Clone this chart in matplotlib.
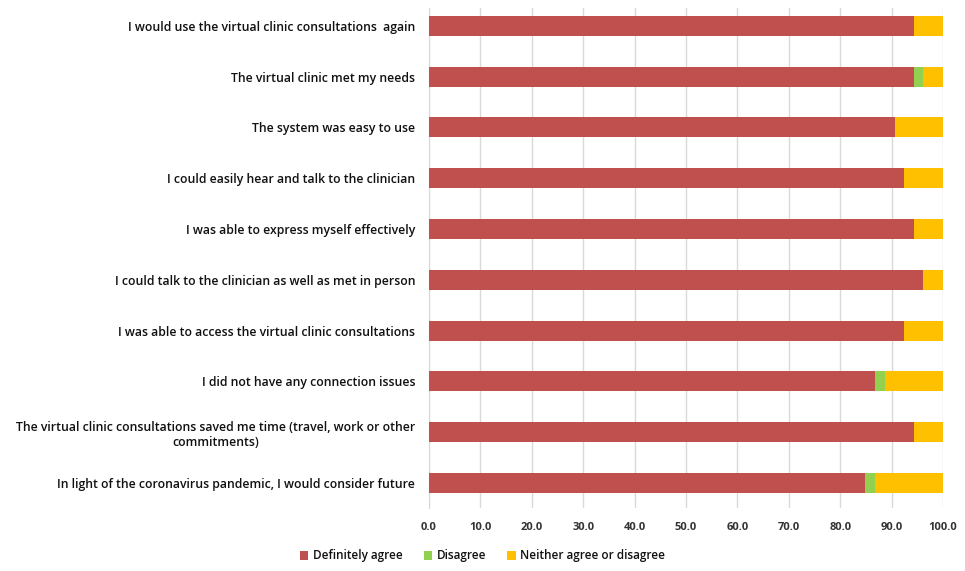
import numpy as np
from matplotlib import pyplot as plt

# statements, bottom to top as plotted
statements = [
    'In light of the coronavirus pandemic, I would consider future',
    'The virtual clinic consultations saved me time (travel, work or other\ncommitments)',
    'I did not have any connection issues',
    'I was able to access the virtual clinic consultations',
    'I could talk to the clinician as well as met in person',
    'I was able to express myself effectively',
    'I could easily hear and talk to the clinician',
    'The system was easy to use',
    'The virtual clinic met my needs',
    'I would use the virtual clinic consultations  again',
]
agree = [84.9, 94.3, 86.8, 92.5, 96.2, 94.3, 92.5, 90.6, 94.3, 94.3]
disagree = [1.9, 0.0, 1.9, 0.0, 0.0, 0.0, 0.0, 0.0, 1.9, 0.0]
neither = [13.2, 5.7, 11.3, 7.5, 3.8, 5.7, 7.5, 9.4, 3.8, 5.7]
xticks = np.arange(0, 101, 10)

series_names = ['Definitely agree', 'Disagree', 'Neither agree or disagree']
colors = ['#C0504D', '#92D050', '#FFC000']

plt.rcParams['font.family'] = ['Open Sans', 'DejaVu Sans']

W, H = 965, 571
fig = plt.figure(figsize=(W / 100, H / 100), dpi=100)
ax = fig.add_axes([429 / W, 1 - 508 / H, (943 - 429) / W, 500 / H])

y = np.arange(len(statements))
agree = np.array(agree)
disagree = np.array(disagree)
neither = np.array(neither)
bh = 20 / 50.8
ax.barh(y, agree, height=bh, color=colors[0], label=series_names[0], zorder=3)
ax.barh(y, disagree, left=agree, height=bh, color=colors[1], label=series_names[1], zorder=3)
ax.barh(y, neither, left=agree + disagree, height=bh, color=colors[2], label=series_names[2], zorder=3)

ax.set_xlim(0, 100)
ax.set_ylim(-0.49, 9.35)
ax.set_xticks(xticks)
ax.set_xticklabels([f'{v:.1f}' for v in xticks], fontsize=8, fontweight='bold', color='#333333')
ax.set_yticks(y)
ax.set_yticklabels(statements, fontsize=8.8, fontweight='semibold', color='#111111', ha='right',
                   multialignment='center')
ax.tick_params(axis='y', length=0, pad=10)
ax.tick_params(axis='x', length=0, pad=10)
ax.grid(axis='x', color='#d9d9d9', linewidth=1, zorder=0)
for s in ['top', 'right', 'bottom']:
    ax.spines[s].set_visible(False)
ax.spines['left'].set_color('#d9d9d9')

leg = fig.legend(loc='center', bbox_to_anchor=(0.5, 1 - 556 / H), ncol=3, frameon=False,
                 fontsize=8.5, handlelength=0.7, handleheight=0.7, columnspacing=1.8, handletextpad=0.4)
for t in leg.get_texts():
    t.set_fontweight('semibold')
    t.set_color('#111111')

fig.savefig('out.png', dpi=100)
